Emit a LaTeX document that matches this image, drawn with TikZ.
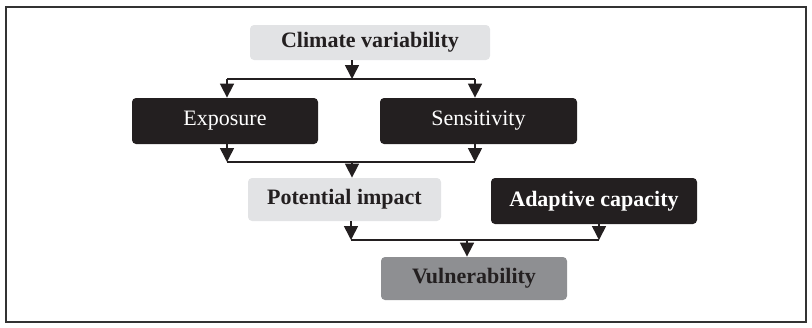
\documentclass[tikz,border=0pt]{standalone}
\usepackage{fontspec}
\setmainfont{Liberation Serif}
\usepackage{tikz}
\usetikzlibrary{arrows.meta}

\definecolor{cinzaclaro}{HTML}{E2E3E5}
\definecolor{quasepreto}{HTML}{231F20}
\definecolor{cinzaescuro}{HTML}{8E8F92}

\tikzset{
    caixa/.style={rounded corners=2pt, inner sep=0pt, font=\fontsize{11}{13}\selectfont},
    clara/.style={caixa, fill=cinzaclaro, text=quasepreto, font=\fontsize{11}{13}\selectfont\bfseries},
    escura/.style={caixa, fill=quasepreto, text=white},
    seta/.style={-{Triangle[length=7pt, width=7pt]}, line width=0.8pt, draw=quasepreto},
    linha/.style={line width=0.8pt, draw=quasepreto}
}

\begin{document}
\begin{tikzpicture}[x=0.5pt, y=-0.5pt]
    \useasboundingbox (0,0) rectangle (812,327);
    \draw[line width=0.8pt, draw=black!80] (6,7) rectangle (806,322);

    % caixas
    \node[clara, minimum width=120pt, minimum height=17.5pt] (clima) at (370,42.5) {Climate variability};
    \node[escura, minimum width=93pt, minimum height=23pt] (expo) at (225,121) {Exposure};
    \node[escura, minimum width=98.5pt, minimum height=23pt] (sens) at (478.5,121) {Sensitivity};
    \node[clara, minimum width=96.5pt, minimum height=21.5pt] (impacto) at (344.5,199.5) {Potential impact};
    \node[escura, minimum width=103pt, minimum height=23pt, font=\fontsize{11}{13}\selectfont\bfseries] (adapt) at (594,201) {Adaptive capacity};
    \node[clara, fill=cinzaescuro, minimum width=93pt, minimum height=21.5pt] (vuln) at (474,278.5) {Vulnerability};

    \coordinate (c1) at (352,79);
    \coordinate (c1e) at (227,79);
    \coordinate (c1s) at (475,79);
    \coordinate (c2) at (352,162);
    \coordinate (c2e) at (227,162);
    \coordinate (c2s) at (475,162);
    \coordinate (c3) at (467,240);
    \coordinate (c3i) at (351,240);
    \coordinate (c3a) at (599,240);

    \draw[seta] (clima.south -| c1) -- (c1);
    \draw[linha] (c1e) -- (c1s);
    \draw[seta] (c1e) -- (c1e |- expo.north);
    \draw[seta] (c1s) -- (c1s |- sens.north);

    \draw[seta] (c2e |- expo.south) -- (c2e);
    \draw[seta] (c2s |- sens.south) -- (c2s);
    \draw[linha] (c2e) -- (c2s);
    \draw[seta] (c2) -- (c2 |- impacto.north);

    \draw[seta] (c3i |- impacto.south) -- (c3i);
    \draw[seta] (c3a |- adapt.south) -- (c3a);
    \draw[linha] (c3i) -- (c3a);
    \draw[seta] (c3) -- (c3 |- vuln.north);

\end{tikzpicture}
\end{document}
